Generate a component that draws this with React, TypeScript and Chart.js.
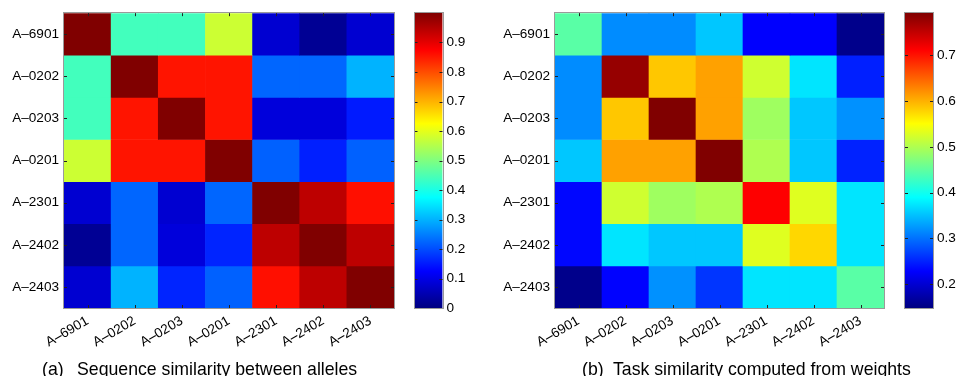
import React, { useEffect, useRef } from "react";
import { Chart, registerables } from "chart.js";
Chart.register(...registerables);

const alleles = ["A–6901", "A–0202", "A–0203", "A–0201", "A–2301", "A–2402", "A–2403"];

// (a) sequence similarity between alleles (rows top → bottom, columns left → right)
const sequenceSimilarity = [
  [1.0, 0.44, 0.44, 0.575, 0.08, 0.02, 0.08],
  [0.44, 1.0, 0.855, 0.855, 0.225, 0.225, 0.3],
  [0.44, 0.855, 1.0, 0.855, 0.09, 0.09, 0.15],
  [0.575, 0.855, 0.855, 1.0, 0.22, 0.155, 0.22],
  [0.08, 0.225, 0.08, 0.225, 1.0, 0.94, 0.86],
  [0.02, 0.225, 0.09, 0.16, 0.94, 1.0, 0.94],
  [0.08, 0.3, 0.16, 0.22, 0.86, 0.94, 1.0],
];
const sequenceRange = [0, 1];
const sequenceTicks = [0, 0.1, 0.2, 0.3, 0.4, 0.5, 0.6, 0.7, 0.8, 0.9];

// (b) task similarity computed from weights
const taskSimilarity = [
  [0.446, 0.317, 0.317, 0.354, 0.228, 0.228, 0.155],
  [0.317, 0.778, 0.586, 0.61, 0.52, 0.373, 0.248],
  [0.317, 0.586, 0.792, 0.61, 0.49, 0.354, 0.32],
  [0.354, 0.61, 0.61, 0.792, 0.5, 0.354, 0.25],
  [0.232, 0.52, 0.49, 0.5, 0.712, 0.53, 0.373],
  [0.232, 0.373, 0.354, 0.354, 0.53, 0.576, 0.373],
  [0.155, 0.23, 0.32, 0.262, 0.373, 0.373, 0.446],
];
const taskRange = [0.148, 0.792];
const taskTicks = [0.2, 0.3, 0.4, 0.5, 0.6, 0.7];

const FONT = '"Liberation Sans", Arial, Helvetica, sans-serif';
const tickFont = { family: FONT, size: 13.6 };

function jet(t: number): string {
  const c = (x: number) => Math.max(0, Math.min(1, x));
  const r = c(1.5 - Math.abs(4 * t - 3));
  const g = c(1.5 - Math.abs(4 * t - 2));
  const b = c(1.5 - Math.abs(4 * t - 1));
  return `rgb(${Math.round(r * 255)},${Math.round(g * 255)},${Math.round(b * 255)})`;
}

const framePlugin = {
  id: "frame",
  afterDatasetsDraw(chart: any, _args: any, opts: any) {
    const { ctx, chartArea: a, scales } = chart;
    const L = 3;
    ctx.save();
    ctx.strokeStyle = "#222";
    ctx.lineWidth = 1;
    ctx.beginPath();
    if (opts.xTicks && scales.x) {
      scales.x.ticks.forEach((_t: any, i: number) => {
        const x = Math.round(scales.x.getPixelForTick(i)) + 0.5;
        ctx.moveTo(x, a.bottom);
        ctx.lineTo(x, a.bottom - L);
        ctx.moveTo(x, a.top);
        ctx.lineTo(x, a.top + L);
      });
    }
    if (scales.y) {
      scales.y.ticks.forEach((t: any) => {
        const y = Math.round(scales.y.getPixelForValue(t.value)) + 0.5;
        ctx.moveTo(a.left, y);
        ctx.lineTo(a.left + L, y);
        ctx.moveTo(a.right, y);
        ctx.lineTo(a.right - L, y);
      });
    }
    ctx.stroke();
    ctx.strokeStyle = "#9a9a9a";
    ctx.strokeRect(
      Math.round(a.left) - 0.5,
      Math.round(a.top) - 0.5,
      Math.round(a.right) - Math.round(a.left) + 1,
      Math.round(a.bottom) - Math.round(a.top) + 1
    );
    ctx.restore();
  },
};

function Heatmap(props: {
  matrix: number[][];
  range: number[];
  left: number;
  width: number;
  height: number;
  areaLeft: number;
  areaRight: number;
  areaBottom: number;
}) {
  const ref = useRef<HTMLCanvasElement>(null);
  useEffect(() => {
    const { matrix, range, width, height, areaLeft, areaRight, areaBottom } = props;
    const [lo, hi] = range;
    const chart = new Chart(ref.current as HTMLCanvasElement, {
      type: "bar",
      data: {
        labels: alleles,
        datasets: matrix.map((row, r) => ({
          data: row.map(() => [r, r + 1]),
          backgroundColor: row.map((v) => jet((v - lo) / (hi - lo))),
          borderWidth: 0,
          barPercentage: 1,
          categoryPercentage: 1,
          grouped: false,
        })),
      } as any,
      options: {
        responsive: false,
        animation: false,
        events: [],
        layout: { padding: { top: 13, right: width - areaRight, left: 0, bottom: 0 } },
        plugins: {
          legend: { display: false },
          tooltip: { enabled: false },
          frame: { xTicks: true },
        } as any,
        scales: {
          x: {
            type: "category",
            grid: { display: false, drawTicks: false },
            border: { display: false },
            ticks: {
              color: "#000",
              font: tickFont,
              minRotation: 30,
              maxRotation: 30,
              padding: 5,
              autoSkip: false,
            },
            afterFit: (s: any) => {
              s.height = height - areaBottom;
            },
          },
          y: {
            type: "linear",
            min: 0,
            max: 7,
            reverse: true,
            grid: { display: false, drawTicks: false },
            border: { display: false },
            afterBuildTicks: (s: any) => {
              s.ticks = alleles.map((_, i) => ({ value: i + 0.5 }));
            },
            ticks: {
              color: "#000",
              font: tickFont,
              padding: 5,
              autoSkip: false,
              callback: (_v: any, i: number) => alleles[i],
            },
            afterFit: (s: any) => {
              s.width = areaLeft;
            },
          },
        },
      } as any,
      plugins: [framePlugin as any],
    });
    return () => chart.destroy();
  }, []);
  return (
    <canvas
      ref={ref}
      width={props.width}
      height={props.height}
      style={{ position: "absolute", left: props.left, top: 0, width: props.width, height: props.height }}
    />
  );
}

function Colorbar(props: {
  range: number[];
  ticks: number[];
  left: number;
  width: number;
  height: number;
  areaLeft: number;
  areaRight: number;
  areaBottom: number;
}) {
  const ref = useRef<HTMLCanvasElement>(null);
  useEffect(() => {
    const { range, ticks, width, height, areaLeft, areaRight, areaBottom } = props;
    const [lo, hi] = range;
    const stops = [0, 0.125, 0.375, 0.625, 0.875, 1];
    const chart = new Chart(ref.current as HTMLCanvasElement, {
      type: "bar",
      data: {
        labels: [""],
        datasets: [
          {
            data: [[lo, hi]],
            borderWidth: 0,
            barPercentage: 1,
            categoryPercentage: 1,
            backgroundColor: (c: any) => {
              const ch = c.chart;
              const a = ch.chartArea;
              if (!a) return "#00f";
              const g = ch.ctx.createLinearGradient(0, a.bottom, 0, a.top);
              stops.forEach((s) => g.addColorStop(s, jet(s)));
              return g;
            },
          },
        ],
      } as any,
      options: {
        responsive: false,
        animation: false,
        events: [],
        layout: { padding: { top: 13, right: 0, left: areaLeft, bottom: height - areaBottom } },
        plugins: {
          legend: { display: false },
          tooltip: { enabled: false },
          frame: { xTicks: false },
        } as any,
        scales: {
          x: { display: false },
          y: {
            type: "linear",
            position: "right",
            min: lo,
            max: hi,
            grid: { display: false, drawTicks: false },
            border: { display: false },
            afterBuildTicks: (s: any) => {
              s.ticks = ticks.map((v) => ({ value: v }));
            },
            ticks: {
              color: "#000",
              font: tickFont,
              padding: 4,
              autoSkip: false,
              callback: (v: any) => (v === 0 ? "0" : Number(v).toFixed(1)),
            },
            afterFit: (s: any) => {
              s.width = width - areaRight;
            },
          },
        },
      } as any,
      plugins: [framePlugin as any],
    });
    return () => chart.destroy();
  }, []);
  return (
    <canvas
      ref={ref}
      width={props.width}
      height={props.height}
      style={{ position: "absolute", left: props.left, top: 0, width: props.width, height: props.height }}
    />
  );
}

const captionStyle: React.CSSProperties = {
  position: "absolute",
  top: 360.5,
  fontFamily: FONT,
  fontSize: 17.7,
  lineHeight: "17.7px",
  color: "#000",
  whiteSpace: "nowrap",
};

export default function App() {
  return (
    <div
      style={{
        position: "absolute",
        left: 0,
        top: 0,
        width: 959,
        height: 376,
        overflow: "hidden",
        background: "#fff",
      }}
    >
      <Heatmap
        matrix={sequenceSimilarity}
        range={sequenceRange}
        left={0}
        width={400}
        height={360}
        areaLeft={64}
        areaRight={394}
        areaBottom={308}
      />
      <Colorbar
        range={sequenceRange}
        ticks={sequenceTicks}
        left={400}
        width={80}
        height={330}
        areaLeft={14.5}
        areaRight={42.5}
        areaBottom={308}
      />
      <Heatmap
        matrix={taskSimilarity}
        range={taskRange}
        left={480}
        width={410}
        height={360}
        areaLeft={75}
        areaRight={404}
        areaBottom={308}
      />
      <Colorbar
        range={taskRange}
        ticks={taskTicks}
        left={890}
        width={69}
        height={330}
        areaLeft={15}
        areaRight={43}
        areaBottom={308}
      />
      <span style={{ ...captionStyle, left: 42 }}>(a)</span>
      <span style={{ ...captionStyle, left: 77 }}>Sequence similarity between alleles</span>
      <span style={{ ...captionStyle, left: 582 }}>(b)</span>
      <span style={{ ...captionStyle, left: 613 }}>Task similarity computed from weights</span>
    </div>
  );
}
